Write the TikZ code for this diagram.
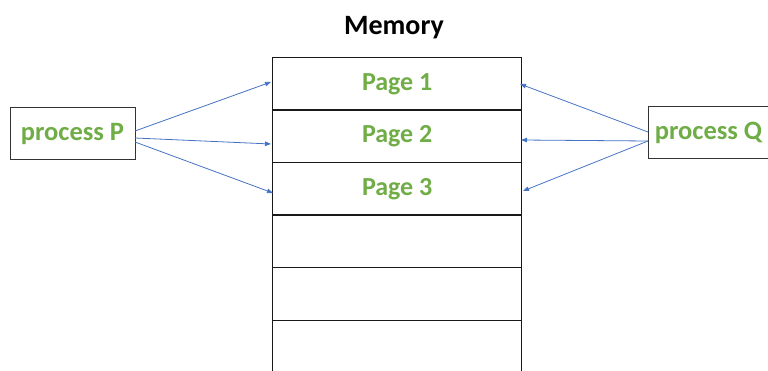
\documentclass[tikz,border=0pt]{standalone}
\usepackage{fontspec}
\setmainfont{Carlito}
\usetikzlibrary{arrows.meta}
\definecolor{pgreen}{HTML}{70AD47}
\definecolor{pblue}{HTML}{4472C4}
\begin{document}
\begin{tikzpicture}[x=1pt,y=-1pt,
  procbox/.style={draw=black!80,line width=1pt,fill=white,inner sep=0pt,minimum height=52pt,font=\fontsize{26.5}{30}\selectfont\bfseries,text=pgreen},
  cell/.style={draw=black!90,line width=1.4pt,minimum width=249pt,minimum height=52.5pt,inner sep=0pt,anchor=north west,font=\fontsize{26}{30}\selectfont\bfseries,text=pgreen},
  link/.style={pblue,line width=0.8pt,-{Triangle[length=6pt,width=4.5pt]}}]
\useasboundingbox (0,0) rectangle (768,371);
\node[font=\fontsize{28}{32}\selectfont\bfseries] (title) at (394,28) {Memory};
\node[cell] (p1) at (272,57) {Page 1};
\node[cell] (p2) at (272,109.5) {Page 2};
\node[cell] (p3) at (272,162) {Page 3};
\node[cell] (p4) at (272,214.5) {};
\node[cell] (p5) at (272,267) {};
\begin{scope}
\clip (0,0) rectangle (768,371);
\node[cell] (p6) at (272,319.5) {};
\node[procbox,minimum width=121pt] (q) at (708.5,133) {process Q};
\end{scope}
\node[procbox,minimum width=125pt] (p) at (72.5,133.5) {process P};
\coordinate (pa) at (135,131);
\coordinate (pb) at (135,138);
\coordinate (pc) at (135,142);
\coordinate (t1) at (271,82);
\coordinate (t2) at (271,144);
\coordinate (t3) at (273,193);
\draw[link] (pa) -- (t1);
\draw[link] (pb) -- (t2);
\draw[link] (pc) -- (t3);
\coordinate (qa) at (648,132);
\coordinate (qb) at (648,141);
\coordinate (u1) at (520,84);
\coordinate (u2) at (521,140);
\coordinate (u3) at (523,191);
\draw[link] (qa) -- (u1);
\draw[link] (qb) -- (u2);
\draw[link] (qb) -- (u3);
\end{tikzpicture}
\end{document}
